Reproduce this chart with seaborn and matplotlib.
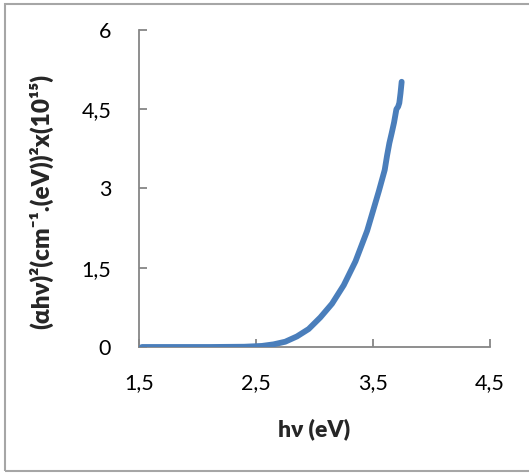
import matplotlib
matplotlib.use("Agg")
import matplotlib.pyplot as plt
import seaborn as sns
import pandas as pd
from matplotlib.patches import Rectangle

# Data
hv = [1.525, 1.8, 2.1, 2.4, 2.55, 2.65, 2.75, 2.85, 2.95, 3.05, 3.15, 3.25,
      3.35, 3.45, 3.55, 3.60, 3.62, 3.64, 3.66, 3.68, 3.70, 3.715, 3.725, 3.735, 3.745]
ahv2 = [0.0, 0.0, 0.0, 0.005, 0.02, 0.05, 0.10, 0.20, 0.34, 0.56, 0.82, 1.17,
        1.62, 2.20, 2.95, 3.35, 3.62, 3.86, 4.05, 4.25, 4.50, 4.55, 4.62, 4.80, 5.02]
xticks = [1.5, 2.5, 3.5, 4.5]
xticklabels = ["1,5", "2,5", "3,5", "4,5"]
yticks = [0, 1.5, 3, 4.5, 6]
yticklabels = ["0", "1,5", "3", "4,5", "6"]

df = pd.DataFrame({"hv": hv, "y": ahv2})

sns.set_theme(style="white")
plt.rcParams["font.family"] = ["Lato", "DejaVu Sans"]

W, H = 529, 474
fig = plt.figure(figsize=(W / 100, H / 100), dpi=100)
ax = fig.add_axes([139 / W, 127 / H, (490 - 139) / W, (347 - 30) / H])

sns.lineplot(data=df, x="hv", y="y", ax=ax, color="#4A7EBB", linewidth=4.2,
             solid_capstyle="round", solid_joinstyle="round")

ax.set_xlim(1.5, 4.5)
ax.set_ylim(0, 6)
ax.set_xticks(xticks)
ax.set_xticklabels(xticklabels)
ax.set_yticks(yticks)
ax.set_yticklabels(yticklabels)

gray = "#868686"
for s in ["top", "right"]:
    ax.spines[s].set_visible(False)
for s in ["left", "bottom"]:
    ax.spines[s].set_color(gray)
    ax.spines[s].set_linewidth(1.3)
    ax.spines[s].set_zorder(0)

ax.tick_params(axis="both", direction="in", length=6, width=1.3, color=gray,
               labelsize=15.5, labelcolor="black", bottom=True, left=True)
ax.tick_params(axis="y", pad=20)
ax.tick_params(axis="x", pad=19)

ax.set_xlabel("hν (eV)", fontsize=16.5, fontweight=800)
ax.set_ylabel("(αhν)²(cm⁻¹.(eV))²x(10¹⁵)", fontsize=17.5, fontweight=800)
ax.xaxis.set_label_coords(0.50, -0.225)
ax.yaxis.set_label_coords(-0.245, 0.46)

# figure border
fig.patches.append(Rectangle((5 / W, 3 / H), 1.2, (470 - 3) / H,
                             transform=fig.transFigure, fill=False,
                             edgecolor="#A6A6A6", linewidth=1.5))

fig.savefig("out.png", dpi=100)
